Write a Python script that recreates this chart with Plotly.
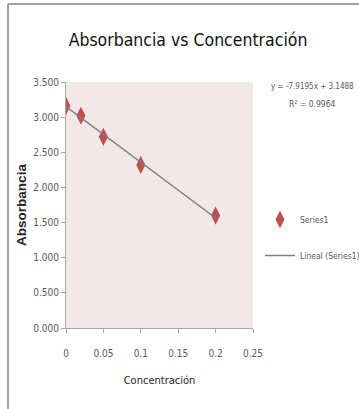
import plotly.graph_objects as go

# Data
concentracion = [0.0, 0.02, 0.05, 0.1, 0.2]
absorbancia = [3.16, 3.02, 2.72, 2.32, 1.60]
slope = -7.9195
intercept = 3.1488
r2 = 0.9964
x_ticks = [0, 0.05, 0.1, 0.15, 0.2, 0.25]
y_ticks = [0, 0.5, 1.0, 1.5, 2.0, 2.5, 3.0, 3.5]

W, H = 359, 409
L, R, T, B = 66, 106, 82, 81
pw = W - L - R
ph = H - T - B

def px(x):  # container pixel -> paper x
    return (x - L) / pw

def py(y):  # container pixel -> paper y
    return 1 - (y - T) / ph

NARROW = "DejaVu Sans Condensed, Liberation Sans Narrow, sans-serif"

trend_x = [min(concentracion), max(concentracion)]
trend_y = [slope * v + intercept for v in trend_x]

fig = go.Figure()
fig.add_trace(go.Scatter(
    x=concentracion, y=absorbancia, mode="markers", name="Series1",
    legendgroup="a",
    marker=dict(symbol="diamond-tall", size=13, color="#C0504D",
                line=dict(width=0)),
))
fig.add_trace(go.Scatter(
    x=trend_x, y=trend_y, mode="lines", name="Lineal (Series1)",
    legendgroup="b",
    line=dict(color="#7F7F7F", width=1.5),
))

fig.update_layout(
    width=W, height=H,
    margin=dict(l=L, r=R, t=T, b=B, autoexpand=False),
    paper_bgcolor="white",
    plot_bgcolor="#F3E8E8",
    title=dict(text="Absorbancia vs Concentración", x=188 / W, xref="container",
               xanchor="center", y=1 - 40 / H, yref="container", yanchor="middle",
               font=dict(family=NARROW, size=17.5, color="#111111")),
    showlegend=True,
    legend=dict(x=px(260), y=py(205), xanchor="left", yanchor="top",
                font=dict(family=NARROW, size=8.5, color="#595959"),
                bgcolor="rgba(0,0,0,0)", tracegroupgap=17, itemwidth=30),
    xaxis=dict(range=[0, 0.25], tickvals=x_ticks, showgrid=False, zeroline=False,
               showline=True, linecolor="#A6A6A6", linewidth=1,
               ticks="outside", ticklen=4, tickcolor="#A6A6A6",
               ticklabelstandoff=12,
               tickfont=dict(family=NARROW, size=10, color="#595959"),
               title=dict(text="Concentración", standoff=18,
                          font=dict(family=NARROW, size=11, color="#262626"))),
    yaxis=dict(range=[0, 3.5], tickvals=y_ticks, tickformat=".3f", showgrid=False,
               zeroline=False, showline=True, linecolor="#A6A6A6", linewidth=1,
               ticks="outside", ticklen=4, tickcolor="#A6A6A6",
               tickfont=dict(family=NARROW, size=10, color="#595959"),
               title=dict(text="Absorbancia", standoff=3,
                          font=dict(family="Arial, Liberation Sans, sans-serif", size=13.5,
                                    color="#262626", weight="bold"))),
    annotations=[
        dict(text=f"y = {slope}x + {intercept}", xref="paper", yref="paper",
             x=px(312), y=py(86), xanchor="center", yanchor="middle", showarrow=False,
             font=dict(family=NARROW, size=8, color="#595959")),
        dict(text=f"R² = {r2}", xref="paper", yref="paper",
             x=px(312), y=py(104), xanchor="center", yanchor="middle", showarrow=False,
             font=dict(family=NARROW, size=8.5, color="#595959")),
    ],
    shapes=[
        dict(type="line", xref="paper", yref="paper", x0=px(8), x1=px(8),
             y0=py(4), y1=py(H + 2), line=dict(color="#A0A0A0", width=2)),
        dict(type="line", xref="paper", yref="paper", x0=px(8), x1=px(W + 2),
             y0=py(4), y1=py(4), line=dict(color="#A0A0A0", width=2)),
    ],
)

fig.write_html("out.html", config={"displayModeBar": False},
               post_script="document.body.style.margin='0';document.body.style.overflow='hidden';")
